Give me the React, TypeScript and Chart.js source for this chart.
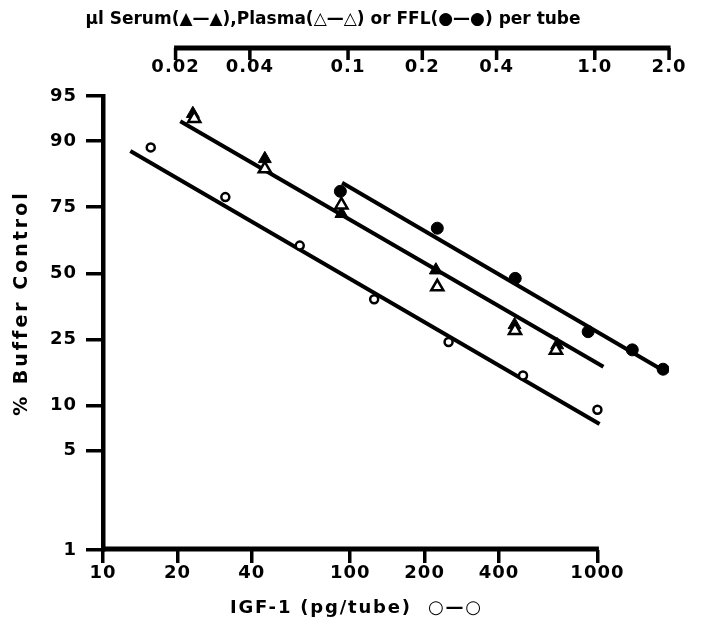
import { useEffect, useRef } from 'react';
import { Chart, registerables, Scale } from 'chart.js';

// ---- data ----
// IGF-1 standard, bottom axis (pg/tube)
const igfDose = [15.6, 31.25, 62.5, 125, 250, 500, 1000];
const igfPct = [89, 78, 61.3, 39.4, 24.2, 15.5, 9.4];
const igfFitDose = [12.9, 1020];
const igfFitPct = [88.4, 7.56];

// top axis (µl per tube)
const serumVol = [0.0235, 0.046, 0.094, 0.227, 0.473, 0.704];
const serumPct = [93.4, 87.0, 72.9, 51.3, 29.8, 23.3];
const plasmaVol = [0.0238, 0.046, 0.094, 0.23, 0.475, 0.696];
const plasmaPct = [92.9, 85.0, 75.7, 44.4, 27.9, 21.8];
const fflVol = [0.0931, 0.23, 0.476, 0.94, 1.419, 1.892];
const fflPct = [79.6, 67.9, 47.9, 27.5, 21.9, 16.9];
const serumFitVol = [0.0209, 1.084];
const serumFitPct = [92.6, 17.5];
const fflFitVol = [0.0946, 1.933];
const fflFitPct = [81.8, 16.3];

// ticks and titles
const yTicks = [1, 5, 10, 25, 50, 75, 90, 95];
const xTicks = [10, 20, 40, 100, 200, 400, 1000];
const xTickLabels = ['10', '20', '40', '100', '200', '400', '1000'];
const topTicks = [0.02, 0.04, 0.1, 0.2, 0.4, 1.0, 2.0];
const topTickLabels = ['0.02', '0.04', '0.1', '0.2', '0.4', '1.0', '2.0'];
const topTitle = 'µl Serum(▲—▲),Plasma(△—△) or FFL(●—●) per tube';
const bottomTitle = 'IGF-1 (pg/tube)  ○—○';
const yTitle = '% Buffer Control';

const logit = (p: number) => Math.log(p / (100 - p));

class LogitScale extends Scale {
  static id = 'logit';
  static defaults = {};
  determineDataLimits() {
    const o: any = this.options;
    this.min = o.min;
    this.max = o.max;
  }
  buildTicks() {
    return yTicks.map((v) => ({ value: v }));
  }
  configure() {
    super.configure();
    (this as any)._lo = logit(this.min);
    (this as any)._rng = logit(this.max) - logit(this.min);
  }
  getPixelForValue(v: number) {
    if (v === null || v === undefined || isNaN(v)) return NaN;
    const s: any = this;
    return this.getPixelForDecimal((logit(v) - s._lo) / s._rng);
  }
  getValueForPixel(px: number) {
    const s: any = this;
    const l = s._lo + this.getDecimalForPixel(px) * s._rng;
    return 100 / (1 + Math.exp(-l));
  }
  getLabelForValue(v: number) {
    return String(v);
  }
}

Chart.register(...registerables, LogitScale as any);

const pts = (xs: number[], ys: number[]) => xs.map((x, i) => ({ x, y: ys[i] }));

const FONT = 'DejaVu Sans';

const decor = {
  id: 'decor',
  beforeDraw(chart: any) {
    chart.ctx.letterSpacing = '1px';
  },
  afterDraw(chart: any) {
    const { ctx, chartArea, scales } = chart;
    const xb = scales.x;
    const xt = scales.x2;
    ctx.save();
    ctx.letterSpacing = '0px';
    ctx.strokeStyle = '#000';
    ctx.fillStyle = '#000';
    // bottom axis line (10 .. 1000)
    ctx.lineWidth = 5;
    ctx.beginPath();
    ctx.moveTo(chartArea.left - 2, chartArea.bottom - 1);
    ctx.lineTo(xb.getPixelForValue(xTicks[xTicks.length - 1]) + 1.5, chartArea.bottom - 1);
    ctx.stroke();
    // top axis line and inward tick marks
    const ty = chartArea.top - 48;
    ctx.beginPath();
    ctx.moveTo(xt.getPixelForValue(topTicks[0]) - 1.5, ty);
    ctx.lineTo(xt.getPixelForValue(topTicks[topTicks.length - 1]) + 1.5, ty);
    ctx.stroke();
    ctx.lineWidth = 3.5;
    ctx.beginPath();
    for (const t of topTicks) {
      const px = xt.getPixelForValue(t);
      ctx.moveTo(px, ty);
      ctx.lineTo(px, ty + 12);
    }
    ctx.stroke();
    // axis titles
    ctx.font = `bold 17px "${FONT}"`;
    ctx.textAlign = 'center';
    ctx.textBaseline = 'middle';
    ctx.fillText(topTitle, chartArea.left + 230, 20);
    ctx.letterSpacing = '1.8px';
    ctx.font = `bold 18px "${FONT}"`;
    ctx.textAlign = 'left';
    ctx.textBaseline = 'alphabetic';
    ctx.fillText(bottomTitle, chartArea.left + 127, 613);
    ctx.translate(22, 303);
    ctx.rotate(-Math.PI / 2);
    ctx.letterSpacing = '3px';
    ctx.font = `bold 19px "${FONT}"`;
    ctx.textAlign = 'center';
    ctx.textBaseline = 'middle';
    ctx.fillText(yTitle, 0, 0);
    ctx.restore();
  },
};

const lineDs = (xs: number[], ys: number[], axis: string) => ({
  data: pts(xs, ys),
  xAxisID: axis,
  showLine: true,
  borderColor: '#000',
  borderWidth: 4,
  pointRadius: 0,
  order: 10,
});

export default function App() {
  const ref = useRef<HTMLCanvasElement>(null);
  useEffect(() => {
    if (!ref.current) return;
    const chart = new Chart(ref.current, {
      type: 'scatter',
      data: {
        datasets: [
          { label: 'serum fit', ...lineDs(serumFitVol, serumFitPct, 'x2') },
          { label: 'FFL fit', ...lineDs(fflFitVol, fflFitPct, 'x2') },
          { label: 'IGF-1 fit', ...lineDs(igfFitDose, igfFitPct, 'x') },
          {
            label: 'Serum',
            data: pts(serumVol, serumPct),
            xAxisID: 'x2',
            pointStyle: 'triangle',
            pointRadius: 7.5,
            backgroundColor: '#000',
            borderColor: '#000',
            borderWidth: 1,
            order: 3,
          },
          {
            label: 'Plasma',
            data: pts(plasmaVol, plasmaPct),
            xAxisID: 'x2',
            pointStyle: 'triangle',
            pointRadius: 7,
            backgroundColor: '#fff',
            borderColor: '#000',
            borderWidth: 2.5,
            order: 2,
          },
          {
            label: 'FFL',
            data: pts(fflVol, fflPct),
            xAxisID: 'x2',
            pointStyle: 'circle',
            pointRadius: 6,
            backgroundColor: '#000',
            borderColor: '#000',
            borderWidth: 1,
            order: 1,
          },
          {
            label: 'IGF-1',
            data: pts(igfDose, igfPct),
            xAxisID: 'x',
            pointStyle: 'circle',
            pointRadius: 4,
            backgroundColor: '#fff',
            borderColor: '#000',
            borderWidth: 2.5,
            order: 1,
          },
        ],
      },
      options: {
        responsive: false,
        animation: false,
        events: [],
        layout: { padding: { left: 0, right: 31, top: 0, bottom: 0 } },
        plugins: { legend: { display: false }, tooltip: { enabled: false } },
        scales: {
          x: {
            type: 'logarithmic',
            position: 'bottom',
            min: 10,
            max: 1949,
            bounds: 'data',
            afterBuildTicks: (s: any) => {
              s.ticks = xTicks.map((v) => ({ value: v }));
            },
            afterFit: (s: any) => {
              s.height = 71;
            },
            border: { display: false },
            grid: { drawOnChartArea: false, drawTicks: true, tickLength: 13, lineWidth: 3.5, color: '#000' },
            ticks: {
              autoSkip: false,
              maxRotation: 0,
              minRotation: 0,
              padding: 0,
              color: '#000',
              font: { family: FONT, weight: 'bold', size: 18 },
              callback: (_v: any, i: number) => xTickLabels[i],
            },
            title: { display: false },
          },
          x2: {
            type: 'logarithmic',
            position: 'top',
            axis: 'x',
            min: 0.01016,
            max: 2.0,
            bounds: 'data',
            afterBuildTicks: (s: any) => {
              s.ticks = topTicks.map((v) => ({ value: v }));
            },
            afterFit: (s: any) => {
              s.height = 96;
            },
            border: { display: false },
            grid: { display: false, drawTicks: false },
            ticks: {
              autoSkip: false,
              maxRotation: 0,
              minRotation: 0,
              padding: 18,
              color: '#000',
              font: { family: FONT, weight: 'bold', size: 18 },
              callback: (_v: any, i: number) => topTickLabels[i],
            },
            title: { display: false },
          },
          y: {
            type: 'logit' as any,
            position: 'left',
            min: 1,
            max: 95,
            afterFit: (s: any) => {
              s.width = 103;
            },
            border: { display: true, width: 4.5, color: '#000' },
            grid: { drawOnChartArea: false, drawTicks: true, tickLength: 17, lineWidth: 3.5, color: '#000' },
            ticks: {
              padding: 9,
              color: '#000',
              font: { family: FONT, weight: 'bold', size: 18 },
            },
            title: { display: false },
          },
        },
      } as any,
      plugins: [decor],
    });
    return () => chart.destroy();
  }, []);
  return (
    <canvas
      ref={ref}
      width={703}
      height={621}
      style={{ display: 'block', position: 'absolute', left: 0, top: 0 }}
    />
  );
}
